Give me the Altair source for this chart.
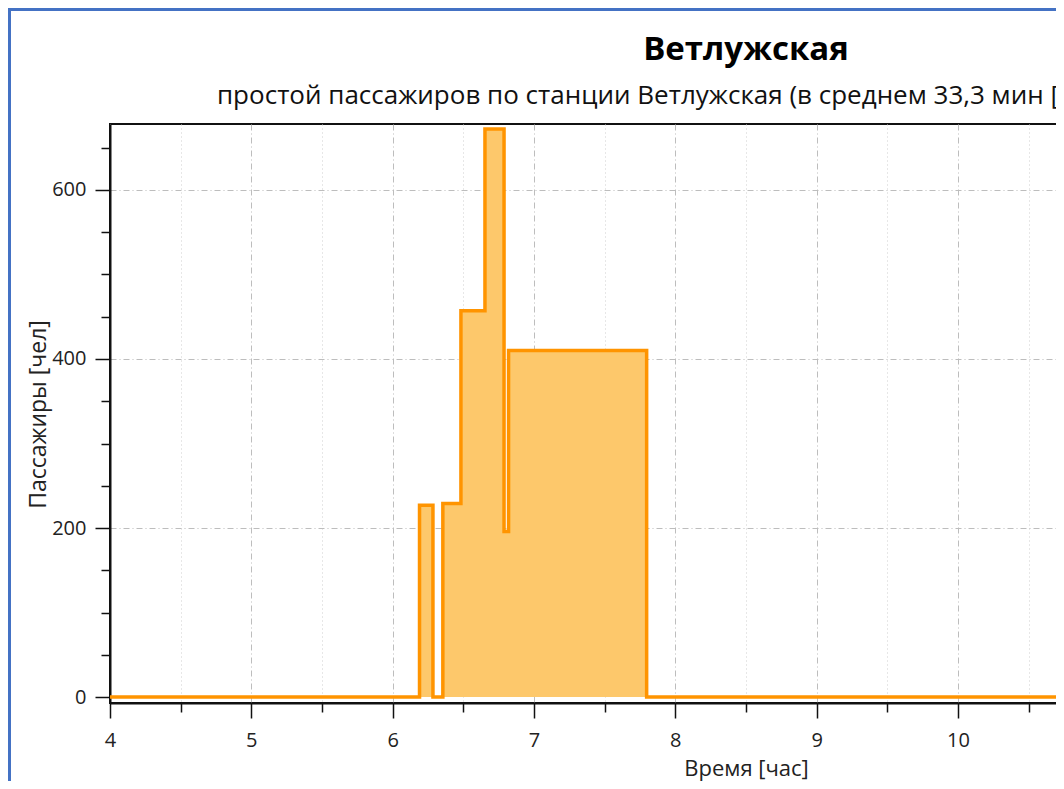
import altair as alt
import pandas as pd

# Step data (time in hours, passengers)
times = [4.0, 6.19, 6.285, 6.355, 6.483, 6.653, 6.788, 6.82, 7.797, 13.0]
passengers = [0, 227, 0, 229, 457, 672, 196, 410, 0, 0]

x_ticks = [4 + 0.5 * i for i in range(14)]   # 4 .. 10.5 (the rest is cut off)
y_ticks = [50 * i for i in range(14)]

title_text = "Ветлужская"
subtitle_text = "простой пассажиров по станции Ветлужская (в среднем 33,3 мин ["
x_title = "Время [час]"
y_title = "Пассажиры [чел]"

df = pd.DataFrame({"t": times, "p": passengers})

FONT = "Open Sans"
FILL = "#FDC86B"
STROKE = "#FF9400"

x_scale = alt.Scale(domain=[4, 13], nice=False, zero=False)
y_scale = alt.Scale(domain=[-7, 678], nice=False, zero=False)

x_axis = alt.Axis(
    values=x_ticks,
    labelExpr="datum.value % 1 === 0 ? format(datum.value, 'd') : ''",
    tickSize={"condition": {"test": "datum.value % 1 === 0", "value": 15}, "value": 9},
    tickColor="#111111",
    tickWidth=1.5,
    domainColor="#111111",
    domainWidth=2,
    grid=True,
    gridColor={"condition": {"test": "datum.value % 1 === 0", "value": "#BDBDBD"}, "value": "#CFCFCF"},
    gridDash={"condition": {"test": "datum.value % 1 === 0", "value": [6, 3, 1, 3]}, "value": [1, 3]},
    gridWidth=1,
    labelFont=FONT,
    labelFontSize=20,
    labelColor="#222222",
    labelPadding=12,
    labelFlush=False,
    labelOverlap=False,
    title=x_title,
    titleFont=FONT,
    titleFontSize=22,
    titleFontWeight="normal",
    titleColor="#222222",
    titleX=636,
    titleY=65,
    titleBaseline="middle",
    titleAlign="center",
)

y_axis = alt.Axis(
    values=y_ticks,
    labelExpr="datum.value % 200 === 0 ? format(datum.value, 'd') : ''",
    tickSize={"condition": {"test": "datum.value % 200 === 0", "value": 15}, "value": 9},
    tickColor="#111111",
    tickWidth=1.5,
    domainColor="#111111",
    domainWidth=2,
    grid=True,
    gridColor="#BDBDBD",
    gridDash=[6, 3, 1, 3],
    gridOpacity={"condition": {"test": "datum.value % 200 === 0 && datum.value > 0", "value": 1}, "value": 0},
    labelFont=FONT,
    labelFontSize=20,
    labelColor="#222222",
    labelPadding=9,
    labelFlush=False,
    labelOverlap=False,
    title=y_title,
    titleFont=FONT,
    titleFontSize=23,
    titleFontWeight="normal",
    titleColor="#222222",
    titleAngle=-90,
    titleX=-72,
    titleY=290,
    titleAlign="center",
    titleBaseline="middle",
)

base = alt.Chart(df)

area = base.mark_area(interpolate="step-after", color=FILL, opacity=1).encode(
    x=alt.X("t:Q", scale=x_scale, axis=x_axis),
    y=alt.Y("p:Q", scale=y_scale, axis=y_axis),
    y2=alt.datum(0),
)

line = base.mark_line(interpolate="step-after", color=STROKE, strokeWidth=3.5, strokeJoin="miter").encode(
    x="t:Q",
    y="p:Q",
)

one = alt.Data(values=[{"k": 1}])
border_v = alt.Chart(one).mark_rule(color="#4472C4", strokeWidth=3).encode(
    x=alt.value(-100.5), y=alt.value(-114.5), y2=alt.value(700)
)
border_h = alt.Chart(one).mark_rule(color="#4472C4", strokeWidth=3).encode(
    x=alt.value(-102), x2=alt.value(1400), y=alt.value(-114.5)
)
subtitle = alt.Chart(one).mark_text(
    text=subtitle_text,
    font=FONT,
    fontSize=26,
    color="#111111",
    align="left",
    baseline="alphabetic",
).encode(x=alt.value(107), y=alt.value(-20))

chart = (
    alt.layer(area, line, border_v, border_h, subtitle)
    .properties(
        width=1272,
        height=579,
        autosize=alt.AutoSizeParams(type="none"),
        padding={"left": 102, "top": 116, "right": -326, "bottom": 78},
        title=alt.Title(
            text=title_text,
            anchor="middle",
            font=FONT,
            fontSize=33,
            fontWeight="bold",
            color="#000000",
            offset=-59,
        ),
        background="white",
    )
    .configure_view(stroke="#111111", strokeWidth=2)
)

chart.save("out.html", embed_options={"renderer": "svg", "actions": False})
